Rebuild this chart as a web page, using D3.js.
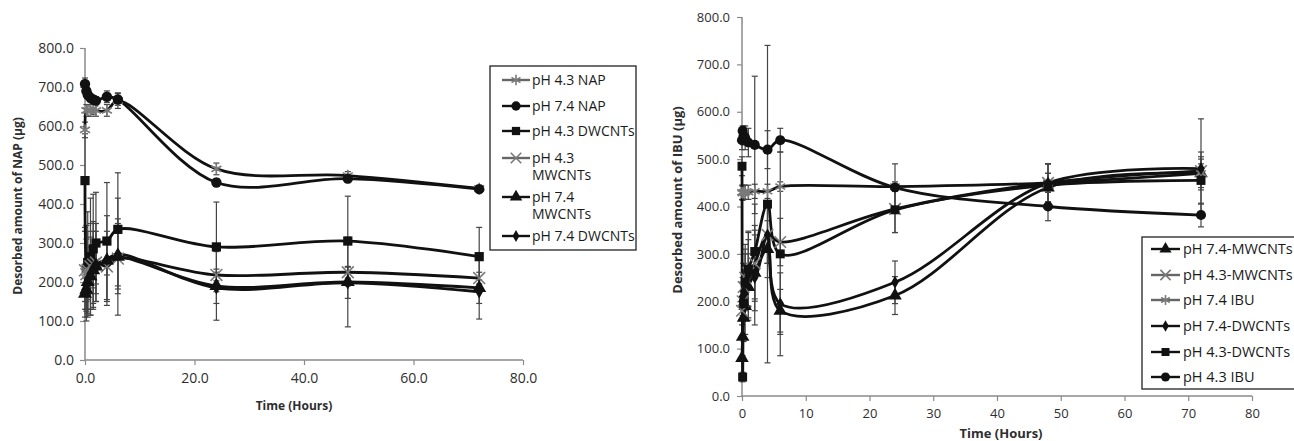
<!DOCTYPE html>
<html><head><meta charset="utf-8">
<script src="https://cdn.jsdelivr.net/npm/d3@7"></script>
<style>
body{margin:0;background:#fff;}
svg{display:block;font-family:"Open Sans",sans-serif;}
</style></head><body>
<svg id="c" width="1294" height="441"></svg>
<script>
// ---------- LEFT CHART (NAP) ----------
const napTimes = [0, 0.25, 0.5, 1, 1.5, 2, 4, 6, 24, 48, 72];
const napSeriesNames = ["pH 4.3 NAP", "pH 7.4 NAP", "pH 4.3 DWCNTs", "pH 4.3\nMWCNTs", "pH 7.4\nMWCNTs", "pH 7.4 DWCNTs"];
const napSeriesMarkers = ["asterisk", "circle", "square", "x", "triangle", "diamond"];
const nap43NAP   = [590, 640, 640, 640, 645, 640, 640, 665, 490, 473, 440];
const nap74NAP   = [708, 690, 680, 672, 668, 665, 675, 668, 455, 465, 438];
const nap43DW    = [460, 235, 250, 265, 285, 300, 305, 335, 290, 305, 265];
const nap43MW    = [230, 220, 230, 240, 245, 250, 240, 260, 218, 225, 210];
const nap74MW    = [170, 180, 200, 215, 230, 240, 255, 265, 190, 200, 185];
const nap74DW    = [180, 190, 205, 220, 235, 245, 258, 272, 185, 198, 175];
const nap43NAPErr = [20, 15, 15, 15, 15, 15, 15, 20, 15, 10, 8];
const nap74NAPErr = [15, 10, 10, 10, 10, 10, 15, 15, 10, 10, 8];
const nap43DWErr  = [120, 110, 130, 150, 140, 130, 150, 145, 115, 115, 75];
const nap43MWErr  = [100, 90, 100, 110, 110, 100, 90, 90, 15, 15, 15];
const nap74MWErr  = [60, 80, 90, 100, 100, 90, 115, 150, 88, 115, 80];
const nap74DWErr  = [30, 40, 50, 50, 50, 50, 40, 90, 40, 40, 30];
const napYTicks = [0, 100, 200, 300, 400, 500, 600, 700, 800];
const napXTicks = [0, 20, 40, 60, 80];

// ---------- RIGHT CHART (IBU) ----------
const ibuTimes = [0, 0.1, 0.25, 0.5, 1, 2, 4, 6, 24, 48, 72];
const ibuSeriesNames = ["pH 7.4-MWCNTs", "pH 4.3-MWCNTs", "pH 7.4 IBU", "pH 7.4-DWCNTs", "pH 4.3-DWCNTs", "pH 4.3 IBU"];
const ibuSeriesMarkers = ["triangle", "x", "asterisk", "diamond", "square", "circle"];
const ibu74MW  = [80, 125, 165, 190, 230, 260, 310, 180, 212, 440, 470];
const ibu43MW  = [180, 200, 230, 250, 260, 280, 340, 325, 395, 450, 475];
const ibu74IBU = [430, 428, 430, 430, 430, 432, 432, 442, 442, 450, 470];
const ibu74DW  = [200, 210, 220, 240, 255, 250, 340, 195, 240, 450, 480];
const ibu43DW  = [485, 40, 195, 240, 268, 305, 405, 300, 393, 445, 455];
const ibu43IBU = [540, 560, 550, 545, 535, 530, 520, 540, 440, 400, 382];
const ibu74MWErr  = [40, 40, 50, 60, 70, 80, 60, 45, 40, 30, 30];
const ibu43MWErr  = [30, 40, 50, 60, 70, 80, 60, 50, 50, 40, 40];
const ibu74IBUErr = [15, 15, 15, 15, 15, 15, 15, 10, 10, 20, 20];
const ibu74DWErr  = [40, 40, 60, 80, 90, 100, 60, 65, 45, 40, 105];
const ibu43DWErr  = [20, 10, 30, 60, 80, 100, 335, 215, 48, 45, 50];
const ibu43IBUErr = [20, 10, 20, 25, 30, 145, 40, 25, 50, 30, 25];
const ibuYTicks = [0, 100, 200, 300, 400, 500, 600, 700, 800];
const ibuXTicks = [0, 10, 20, 30, 40, 50, 60, 70, 80];

const svg = d3.select("#c");
const ink = "#111";
const axisCol = "#8a8a8a";
const textCol = "#2e2e2e";

function symbolFor(name) {
  return {
    circle: d3.symbolCircle, square: d3.symbolSquare, triangle: d3.symbolTriangle,
    diamond: d3.symbolDiamond, x: (d3.symbolX || d3.symbolTimes), asterisk: d3.symbolAsterisk
  }[name];
}
function markerStyle(sel, name, size) {
  const strokeSym = (name === "x" || name === "asterisk");
  sel.attr("d", d3.symbol().type(symbolFor(name)).size(strokeSym ? size * 1.1 : (name === "diamond" ? size * 0.6 : size)))
    .attr("fill", strokeSym ? "none" : ink)
    .attr("stroke", strokeSym ? "#7a7a7a" : "none")
    .attr("stroke-width", strokeSym ? 1.6 : 0);
}

function drawChart(cfg) {
  const g = svg.append("g");
  const x = d3.scaleLinear().domain([0, 80]).range([cfg.x0, cfg.x1]);
  const y = d3.scaleLinear().domain([0, 800]).range([cfg.y0, cfg.y1]);

  // axes
  const xa = g.append("g").attr("transform", `translate(0,${cfg.y0})`)
    .call(d3.axisBottom(x).tickValues(cfg.xTicks).tickFormat(cfg.xFmt).tickSize(5).tickPadding(cfg.xPad));
  const ya = g.append("g").attr("transform", `translate(${cfg.x0},0)`)
    .call(d3.axisLeft(y).tickValues(cfg.yTicks).tickFormat(d3.format(".1f")).tickSize(5).tickPadding(cfg.yPad));
  [xa, ya].forEach(a => {
    a.select(".domain").attr("stroke", axisCol).attr("stroke-width", 1.5);
    a.selectAll(".tick line").attr("stroke", axisCol).attr("stroke-width", 1.2);
    a.selectAll("text").attr("fill", textCol).attr("font-size", cfg.tickFs).attr("font-family", "Open Sans");
  });
  xa.select(".domain").attr("d", `M${cfg.x0},0H${cfg.x1}`);
  ya.select(".domain").attr("d", `M0,${cfg.y0}V${cfg.y1}`);

  // error bars
  const eb = g.append("g");
  cfg.series.forEach(s => {
    s.vals.forEach((v, i) => {
      const e = s.err[i];
      const px = x(cfg.times[i]);
      eb.append("line").attr("x1", px).attr("x2", px).attr("y1", y(v - e)).attr("y2", y(v + e))
        .attr("stroke", "#444").attr("stroke-width", 1.2);
      [v - e, v + e].forEach(b => eb.append("line").attr("x1", px - 3).attr("x2", px + 3)
        .attr("y1", y(b)).attr("y2", y(b)).attr("stroke", "#444").attr("stroke-width", 1.2));
    });
  });

  // lines
  const line = d3.line().x((d, i) => x(cfg.times[i])).y(d => y(d)).curve(d3.curveCatmullRom.alpha(0.5));
  cfg.series.forEach(s => {
    g.append("path").attr("d", line(s.vals)).attr("fill", "none")
      .attr("stroke", ink).attr("stroke-width", 2.8);
  });
  // markers
  cfg.series.forEach(s => {
    g.selectAll(null).data(s.vals).enter().append("path")
      .attr("transform", (d, i) => `translate(${x(cfg.times[i])},${y(d)})`)
      .call(markerStyle, s.marker, cfg.mSize);
  });

  // axis titles
  g.append("text").attr("transform", `translate(${cfg.ytX},${cfg.ytY}) rotate(-90)`)
    .attr("text-anchor", "middle").attr("font-weight", "bold").attr("font-size", cfg.titleFs)
    .attr("fill", textCol).text(cfg.yTitle);
  g.append("text").attr("x", cfg.xtX).attr("y", cfg.xtY)
    .attr("text-anchor", "middle").attr("font-weight", "bold").attr("font-size", cfg.titleFs)
    .attr("fill", textCol).text(cfg.xTitle);

  // legend
  const L = cfg.legend;
  g.append("rect").attr("x", L.x).attr("y", L.y).attr("width", L.w).attr("height", L.h)
    .attr("fill", "#fff").attr("stroke", "#222").attr("stroke-width", 1.3);
  cfg.series.forEach((s, i) => {
    const ry = L.rows[i];
    g.append("line").attr("x1", L.lx0).attr("x2", L.lx1).attr("y1", ry).attr("y2", ry)
      .attr("stroke", (s.marker === "x" || s.marker === "asterisk") ? "#666" : ink).attr("stroke-width", 2.4);
    g.append("path").attr("transform", `translate(${(L.lx0 + L.lx1) / 2},${ry})`).call(markerStyle, s.marker, cfg.mSize * 0.8);
    const lines = s.name.split("\n");
    lines.forEach((t, k) => g.append("text").attr("x", L.tx).attr("y", ry + k * L.lineGap).attr("dy", "0.35em")
      .attr("font-size", L.fs).attr("fill", "#1a1a1a").text(t));
  });
}

drawChart({
  x0: 85, x1: 523, y0: 360, y1: 48,
  times: napTimes, xTicks: napXTicks, yTicks: napYTicks, xFmt: d3.format(".1f"),
  xPad: 8, yPad: 6, tickFs: 14, titleFs: 12, mSize: 85,
  yTitle: "Desorbed amount of NAP (µg)", ytX: 22, ytY: 206,
  xTitle: "Time (Hours)", xtX: 294, xtY: 410,
  series: [
    { name: napSeriesNames[0], marker: napSeriesMarkers[0], vals: nap43NAP, err: nap43NAPErr },
    { name: napSeriesNames[1], marker: napSeriesMarkers[1], vals: nap74NAP, err: nap74NAPErr },
    { name: napSeriesNames[2], marker: napSeriesMarkers[2], vals: nap43DW, err: nap43DWErr },
    { name: napSeriesNames[3], marker: napSeriesMarkers[3], vals: nap43MW, err: nap43MWErr },
    { name: napSeriesNames[4], marker: napSeriesMarkers[4], vals: nap74MW, err: nap74MWErr },
    { name: napSeriesNames[5], marker: napSeriesMarkers[5], vals: nap74DW, err: nap74DWErr }
  ],
  legend: { x: 490, y: 66, w: 146, h: 184, lx0: 502, lx1: 530, tx: 532, fs: 14, lineGap: 17,
            rows: [80, 106, 131, 158, 197, 236] }
});

drawChart({
  x0: 742, x1: 1252, y0: 396, y1: 17,
  times: ibuTimes, xTicks: ibuXTicks, yTicks: ibuYTicks, xFmt: d3.format("d"),
  xPad: 8, yPad: 7, tickFs: 13, titleFs: 13, mSize: 80,
  yTitle: "Desorbed amount of IBU (µg)", ytX: 682, ytY: 200,
  xTitle: "Time (Hours)", xtX: 1001, xtY: 438,
  series: [
    { name: ibuSeriesNames[0], marker: ibuSeriesMarkers[0], vals: ibu74MW, err: ibu74MWErr },
    { name: ibuSeriesNames[1], marker: ibuSeriesMarkers[1], vals: ibu43MW, err: ibu43MWErr },
    { name: ibuSeriesNames[2], marker: ibuSeriesMarkers[2], vals: ibu74IBU, err: ibu74IBUErr },
    { name: ibuSeriesNames[3], marker: ibuSeriesMarkers[3], vals: ibu74DW, err: ibu74DWErr },
    { name: ibuSeriesNames[4], marker: ibuSeriesMarkers[4], vals: ibu43DW, err: ibu43DWErr },
    { name: ibuSeriesNames[5], marker: ibuSeriesMarkers[5], vals: ibu43IBU, err: ibu43IBUErr }
  ],
  legend: { x: 1142, y: 237, w: 170, h: 152, lx0: 1151, lx1: 1180, tx: 1183, fs: 14.5, lineGap: 17,
            rows: [249, 275, 300, 326, 352, 377] }
});
</script>
</body></html>
